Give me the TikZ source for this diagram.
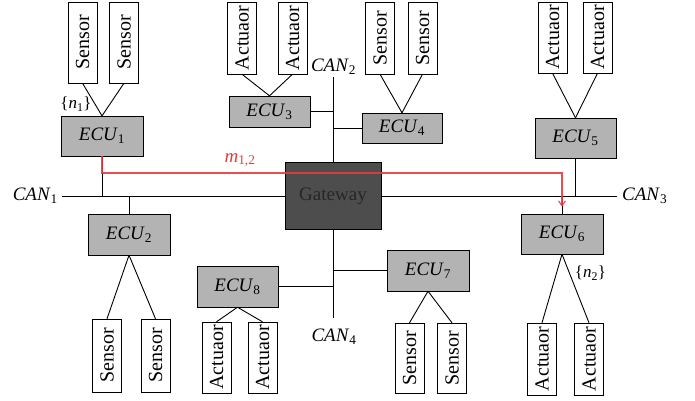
\documentclass[tikz,border=0pt]{standalone}
\usepackage{fontspec}
\setmainfont{Liberation Serif}
\usepackage{graphicx}
\usetikzlibrary{arrows.meta}

\newcommand\ecuname[1]{\textit{ECU}\textsubscript{#1}}
\newcommand\canname[1]{\textit{CAN}\textsubscript{#1}}

\begin{document}
\begin{tikzpicture}[x=1pt,y=-1pt,
    ecu/.style={draw, fill=EcuGray, minimum width=82pt, minimum height=40pt, inner sep=0pt, font=\fontsize{19}{19}\selectfont},
    dev/.style={draw, fill=white, minimum width=29pt, minimum height=72pt, inner sep=0pt, font=\fontsize{20}{20}\selectfont},
    bus/.style={inner sep=0pt, font=\fontsize{19}{19}\selectfont},
    link/.style={line width=0.9pt},
    msg/.style={line width=1.1pt, draw=MsgRed, draw opacity=0.9, -{Straight Barb[length=5pt,width=7pt]}}
    ]
    \definecolor{EcuGray}{HTML}{B3B3B3}
    \definecolor{GateGray}{HTML}{4D4D4D}
    \definecolor{MsgRed}{HTML}{E8383D}
    \useasboundingbox (0,0) rectangle (695,400);

    \node[draw, fill=GateGray, minimum width=96pt, minimum height=67pt, text=black!85, font=\fontsize{19}{19}\selectfont] (gw) at (333,196) {Gateway};

    \node[ecu] (ecu1) at (102,136) {\ecuname{1}};
    \node[ecu, minimum height=41pt] (ecu2) at (129,234.5) {\ecuname{2}};
    \node[ecu, minimum width=81pt, minimum height=31pt] (ecu3) at (269.5,111.5) {\ecuname{3}};
    \node[ecu, minimum width=80pt, minimum height=30pt] (ecu4) at (402,128) {\ecuname{4}};
    \node[ecu, minimum width=81pt] (ecu5) at (575.5,138) {\ecuname{5}};
    \node[ecu] (ecu6) at (562,234) {\ecuname{6}};
    \node[ecu, minimum height=41pt] (ecu7) at (428,270.5) {\ecuname{7}};
    \node[ecu, minimum width=81pt, minimum height=41pt] (ecu8) at (237.5,286.5) {\ecuname{8}};

    \foreach \id/\x/\y/\h/\txt in {s1a/82.5/42.5/81/Sensor, s1b/124/42.5/81/Sensor,
        a3a/242/38/72/Actuaor, a3b/292.5/38/72/Actuaor,
        s4a/380/38/72/Sensor, s4b/422.5/38/72/Sensor,
        a5a/552.5/37.5/71/Actuaor, a5b/597.5/37.5/71/Actuaor,
        s2a/107/355.5/73/Sensor, s2b/155.5/355.5/73/Sensor,
        a8a/216.5/357.5/71/Actuaor, a8b/262.5/357.5/71/Actuaor,
        s7a/409.5/358/70/Sensor, s7b/452/358/70/Sensor,
        a6a/542/359/72/Actuaor, a6b/589/359/72/Actuaor}
        \node[dev, minimum height=\h pt] (\id) at (\x,\y) {\rotatebox{90}{\txt}};

    \foreach \d/\e in {s1a/ecu1, s1b/ecu1, a3a/ecu3, a3b/ecu3, s4a/ecu4, s4b/ecu4, a5a/ecu5, a5b/ecu5}
        \draw[link] (\d.south) -- (\e.north);
    \foreach \d/\e in {s2a/ecu2, s2b/ecu2, a8a/ecu8, a8b/ecu8, s7a/ecu7, s7b/ecu7, a6a/ecu6, a6b/ecu6}
        \draw[link] (\e.south) -- (\d.north);

    \coordinate (c1end) at (62,196);
    \coordinate (c2end) at (333,77);
    \coordinate (c3end) at (617,196);
    \coordinate (c4end) at (333,318);
    \draw[link] (c1end) -- (gw.west);
    \draw[link] (gw.east) -- (c3end);
    \draw[link] (c2end) -- (gw.north);
    \draw[link] (gw.south) -- (c4end);

    \node[bus, anchor=east] (can1) at (58,196) {\canname{1}};
    \node[bus] (can2) at (333.5,67) {\canname{2}};
    \node[bus, anchor=west] (can3) at (622,196) {\canname{3}};
    \node[bus] (can4) at (334,337) {\canname{4}};

    \draw[link] (ecu1.south) -- (ecu1.south |- gw.west);
    \draw[link] (ecu2.north) -- (ecu2.north |- gw.west);
    \draw[link] (ecu5.south) -- (ecu5.south |- gw.east);
    \draw[link] (ecu6.north) -- (ecu6.north |- gw.east);
    \draw[link] (ecu3.east) -- (ecu3.east -| gw.north);
    \draw[link] (ecu4.west) -- (ecu4.west -| gw.north);
    \draw[link] (ecu8.east) -- (ecu8.east -| gw.south);
    \draw[link] (ecu7.west) -- (ecu7.west -| gw.south);

    \node[font=\fontsize{17}{17}\selectfont, inner sep=0pt] (n1) at (76,104) {\{\textit{n}\textsubscript{1}\}};
    \node[font=\fontsize{17}{17}\selectfont, inner sep=0pt] (n2) at (590.5,273) {\{\textit{n}\textsubscript{2}\}};

    \coordinate (turn) at (0,173);
    \draw[msg] (ecu1.south) -- (ecu1.south |- turn) -| ([yshift=7pt]ecu6.north);
    \node[text=MsgRed, inner sep=0pt, font=\fontsize{19}{19}\selectfont] (m12) at (240,160) {\textit{m}\textsubscript{1,2}};
\end{tikzpicture}
\end{document}
